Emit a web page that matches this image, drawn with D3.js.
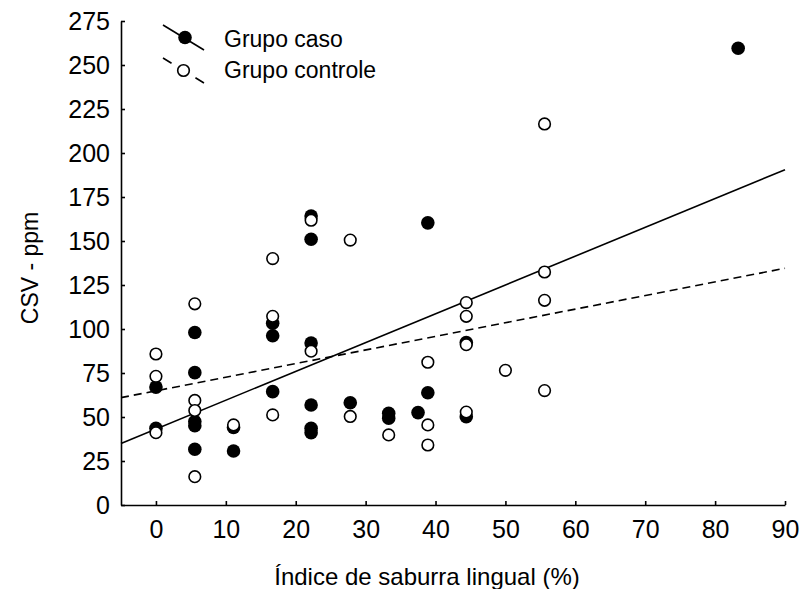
<!DOCTYPE html>
<html>
<head>
<meta charset="utf-8">
<script src="https://cdn.jsdelivr.net/npm/d3@7"></script>
<style>
  html, body { margin: 0; padding: 0; background: #fff; }
  svg { display: block; font-family: "Liberation Sans", Arial, sans-serif; }
</style>
</head>
<body>
<svg id="chart" width="802" height="589"></svg>
<script>
// Grupo caso (filled)
const casoX = [0, 0, 5.56, 5.56, 5.56, 5.56, 5.56, 11.1, 11.1, 16.7, 16.7, 16.7,
  22.2, 22.2, 22.2, 22.2, 22.2, 22.2, 27.8, 33.3, 33.3, 37.5, 38.9, 38.9, 44.4, 44.4, 83.3];
const casoY = [67, 43.6, 98, 75.2, 47.4, 45, 31.7, 44, 30.7, 103.3, 96.2, 64.4,
  164.2, 151, 92, 56.8, 43.6, 41.1, 58.1, 52.1, 49.3, 52.5, 160.3, 63.8, 92.3, 50.2, 259.5];

// Grupo controle (open)
const controleX = [0, 0, 0, 5.56, 5.56, 5.56, 5.56, 11.1, 16.7, 16.7, 16.7, 22.2, 22.2,
  27.8, 27.8, 33.3, 38.9, 38.9, 38.9, 44.4, 44.4, 44.4, 44.4, 50, 55.6, 55.6, 55.6, 55.6];
const controleY = [85.8, 73.1, 41.1, 114.3, 59.4, 53.7, 16.1, 45.5, 140, 107.2, 51.2, 161.8, 87.4,
  150.5, 50.3, 39.8, 81.1, 45.5, 34.1, 115, 107.2, 91.1, 52.8, 76.5, 216.5, 132.4, 116.3, 65];

// fitted lines, ends at x = -5 and x = 90
const fitX = [-5, 90];
const fitCasoY = [35, 190.5];
const fitControleY = [61, 134.5];

const xTicks = [0, 10, 20, 30, 40, 50, 60, 70, 80, 90];
const yTicks = [0, 25, 50, 75, 100, 125, 150, 175, 200, 225, 250, 275];

const svg = d3.select("#chart");
svg.append("rect").attr("width", 802).attr("height", 589).attr("fill", "#fff");

const x = d3.scaleLinear().domain([-5, 90]).range([121, 785]);
const y = d3.scaleLinear().domain([0, 275]).range([505, 21]);

const styleAxis = (axis) => {
  axis.selectAll("path,line").attr("stroke", "#000").attr("stroke-width", 1.6);
  axis.selectAll("text").attr("fill", "#000").style("font-size", "25px").style("font-family", "\"Liberation Sans\", Arial, sans-serif");
};

svg.append("g")
  .attr("transform", "translate(0,505)")
  .call(d3.axisBottom(x).tickValues(xTicks).tickSizeInner(-4).tickSizeOuter(0).tickPadding(15))
  .call(styleAxis);

svg.append("g")
  .attr("transform", "translate(121,0)")
  .call(d3.axisLeft(y).tickValues(yTicks).tickSizeInner(-4).tickSizeOuter(0).tickPadding(11))
  .call(styleAxis);

// fitted lines
const line = d3.line().x((d) => x(d[0])).y((d) => y(d[1]));
svg.append("path")
  .attr("d", line(fitX.map((v, i) => [v, fitControleY[i]])))
  .attr("fill", "none").attr("stroke", "#000").attr("stroke-width", 1.6)
  .attr("stroke-dasharray", "8,5");
svg.append("path")
  .attr("d", line(fitX.map((v, i) => [v, fitCasoY[i]])))
  .attr("fill", "none").attr("stroke", "#000").attr("stroke-width", 1.6);

// points
svg.append("g").selectAll("circle")
  .data(casoX.map((v, i) => [v, casoY[i]]))
  .join("circle")
  .attr("cx", (d) => x(d[0]))
  .attr("cy", (d) => y(d[1]))
  .attr("r", 6.8)
  .attr("fill", "#000");

svg.append("g").selectAll("circle")
  .data(controleX.map((v, i) => [v, controleY[i]]))
  .join("circle")
  .attr("cx", (d) => x(d[0]))
  .attr("cy", (d) => y(d[1]))
  .attr("r", 5.8)
  .attr("fill", "#fff")
  .attr("stroke", "#000")
  .attr("stroke-width", 1.6);

// legend
const legend = svg.append("g");
legend.append("line").attr("x1", 163).attr("y1", 25).attr("x2", 204).attr("y2", 50)
  .attr("stroke", "#000").attr("stroke-width", 1.6);
legend.append("circle").attr("cx", 185).attr("cy", 37.5).attr("r", 6.8).attr("fill", "#000");
legend.append("text").attr("x", 224).attr("y", 47).style("font-size", "23px").text("Grupo caso");

legend.append("line").attr("x1", 163).attr("y1", 58).attr("x2", 204).attr("y2", 83)
  .attr("stroke", "#000").attr("stroke-width", 1.6).attr("stroke-dasharray", "10,28");
legend.append("circle").attr("cx", 183.5).attr("cy", 70.5).attr("r", 5.8)
  .attr("fill", "#fff").attr("stroke", "#000").attr("stroke-width", 1.6);
legend.append("text").attr("x", 224).attr("y", 78).style("font-size", "23px").text("Grupo controle");

// axis titles
svg.append("text")
  .attr("x", 427).attr("y", 585)
  .attr("text-anchor", "middle")
  .style("font-size", "24px")
  .text("Índice de saburra lingual (%)");

svg.append("text")
  .attr("transform", "translate(38,268) rotate(-90)")
  .attr("text-anchor", "middle")
  .style("font-size", "23px")
  .text("CSV - ppm");
</script>
</body>
</html>
